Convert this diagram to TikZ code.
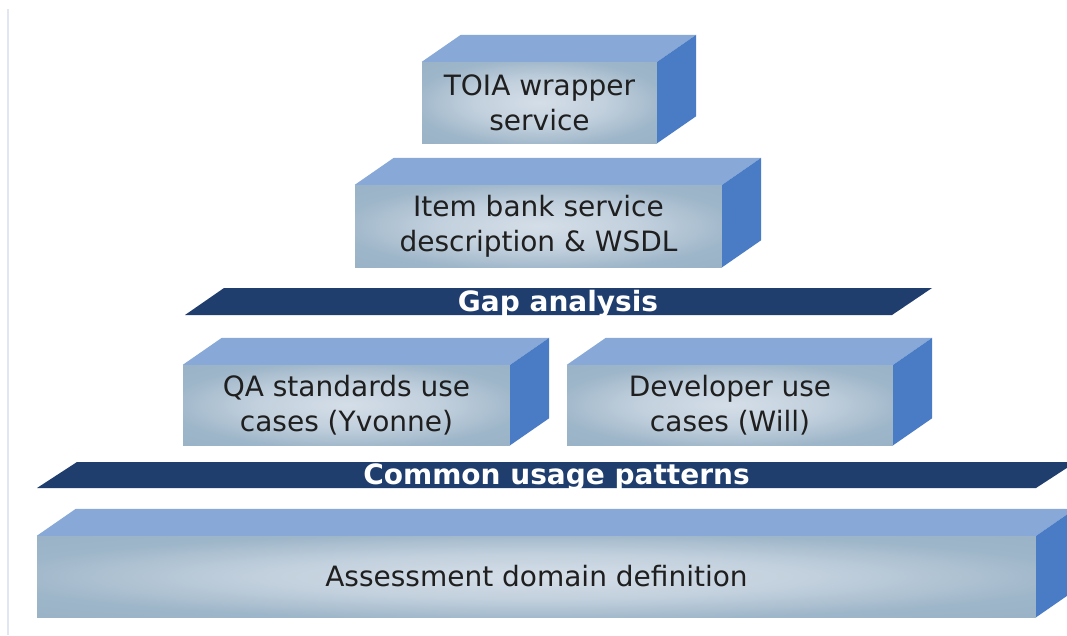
\documentclass[tikz,border=0pt]{standalone}
\usepackage{fontspec}
\setmainfont{DejaVu Sans}
\usepackage{xcolor}
\usepackage{tikz}

\definecolor{dessus}{HTML}{88A9D8}
\definecolor{cote}{HTML}{4A7CC5}
\definecolor{bande}{HTML}{1F3E6E}
\definecolor{bord}{HTML}{E2E6F2}

% Dégradé de la face avant
\pgfdeclareradialshading{faceombre}{\pgfpoint{0bp}{0bp}}{%
  color(0bp)=(rgb,255:red,212;green,222;blue,232);
  color(14bp)=(rgb,255:red,194;green,208;blue,221);
  color(27bp)=(rgb,255:red,158;green,182;blue,201);
  color(50bp)=(rgb,255:red,147;green,173;blue,195)}

\tikzset{
  face/.style={shape=rectangle, inner sep=0pt, align=center,
    shading=faceombre, text=black!88,
    font=\fontsize{28}{35}\selectfont},
  bandetexte/.style={anchor=base, text=white,
    font=\fontsize{28}{35}\selectfont\bfseries}
}

\begin{document}
\begin{tikzpicture}[x=1pt,y=-1pt]
    \useasboundingbox (0,0) rectangle (1067,635);
    \clip (0,0) rectangle (1067,635);
    \fill[white] (0,0) rectangle (1067,635);
    \draw[bord, line width=1.5pt] (8,9) -- (8,635);

    % Faces avant des blocs
    \node[face, minimum width=235pt, minimum height=81pt] (toia) at (539.5,102.5) {TOIA wrapper\\service};
    \node[face, minimum width=367pt, minimum height=82pt] (item) at (538.5,226) {Item bank service\\description \& WSDL};
    \node[face, minimum width=327pt, minimum height=80pt] (qa) at (346.5,405) {QA standards use\\cases (Yvonne)};
    \node[face, minimum width=326pt, minimum height=80pt] (dev) at (730,405) {Developer use\\cases (Will)};
    \node[face, minimum width=999pt, minimum height=81pt] (base) at (536.5,576.5) {Assessment domain definition};

    % Dessus et côtés des blocs
    \foreach \b in {toia,item,qa,dev,base} {
        \fill[dessus] (\b.north west) -- ([shift={(39,-27)}]\b.north west)
            -- ([shift={(39,-27)}]\b.north east) -- (\b.north east) -- cycle;
        \fill[cote] (\b.north east) -- ([shift={(39,-27)}]\b.north east)
            -- ([shift={(39,-27)}]\b.south east) -- (\b.south east) -- cycle;
    }

    % Bandes
    \fill[bande] (185,315) -- (224,288) -- (932,288) -- (892,315) -- cycle;
    \node[bandetexte] (gap) at (558,311) {Gap analysis};
    \fill[bande] (37,488) -- (77,462) -- (1076,462) -- (1036,488) -- cycle;
    \node[bandetexte] (usage) at (556.5,484) {Common usage patterns};
\end{tikzpicture}
\end{document}
